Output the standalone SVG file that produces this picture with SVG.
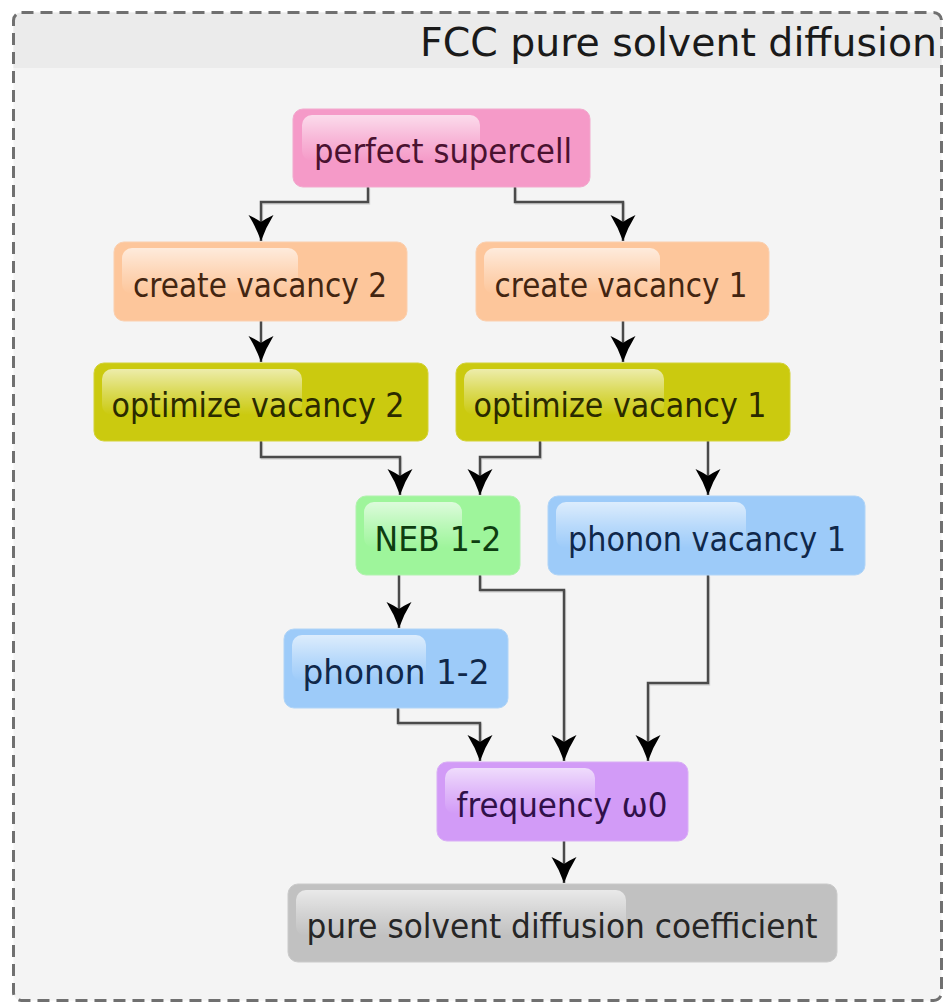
<svg xmlns="http://www.w3.org/2000/svg" width="944" height="1004" viewBox="0 0 944 1004">
  <defs>
    <linearGradient id="gloss" x1="0" y1="0" x2="0" y2="1">
      <stop offset="0" stop-color="#ffffff" stop-opacity="0.65"/>
      <stop offset="0.5" stop-color="#ffffff" stop-opacity="0.3"/>
      <stop offset="1" stop-color="#ffffff" stop-opacity="0"/>
    </linearGradient>
    <marker id="arr" viewBox="-30 -15 32 30" refX="0" refY="0" markerWidth="32" markerHeight="30" markerUnits="userSpaceOnUse" orient="auto">
      <path d="M0,0 Q-14,-5 -26,-12.5 Q-22,-4 -19,0 Q-22,4 -26,12.5 Q-14,5 0,0 Z" fill="#000000"/>
    </marker>
    <style>
      .lbl { font-family: "DejaVu Sans", "Liberation Sans", sans-serif; font-size: 33px; text-anchor: middle; }
      .gl { fill: url(#gloss); }
      .edge { fill: none; stroke: #4a4a4a; stroke-width: 2.5; marker-end: url(#arr); }
      .shadow { fill: none; stroke: #000000; stroke-opacity: 0.12; stroke-width: 2.5; }
    </style>
  </defs>

  <rect x="0" y="0" width="944" height="1004" fill="#ffffff"/>

  <g id="frame">
    <rect x="13.5" y="12.5" width="928" height="988" rx="8" fill="#f4f4f4"/>
    <path d="M13.5,68 V20.5 Q13.5,12.5 21.5,12.5 H933.5 Q941.5,12.5 941.5,20.5 V68 Z" fill="#ebebeb"/>
    <rect x="13.5" y="12.5" width="928" height="988" rx="8" fill="none" stroke="#707070" stroke-width="3" stroke-dasharray="12 7"/>
    <text x="937" y="56" font-family="DejaVu Sans, Liberation Sans, sans-serif" font-size="39" fill="#1a1a1a" text-anchor="end" textLength="517" lengthAdjust="spacingAndGlyphs">FCC pure solvent diffusion</text>
  </g>

  <g id="connectors">
    <g transform="translate(1,1.5)">
      <path class="shadow" d="M368,187 V202 H261 V222"/>
      <path class="shadow" d="M515,187 V202 H623 V222"/>
      <path class="shadow" d="M261,441 V457 H400 V476"/>
      <path class="shadow" d="M540,441 V457 H480 V476"/>
      <path class="shadow" d="M480,575 V590 H564 V742"/>
      <path class="shadow" d="M708,575 V683 H648 V742"/>
      <path class="shadow" d="M398,708 V723 H480 V742"/>
    </g>
    <path class="edge" d="M368,187 V202 H261 V241"/>
    <path class="edge" d="M515,187 V202 H623 V241"/>
    <path class="edge" d="M261,321 V362"/>
    <path class="edge" d="M623,321 V362"/>
    <path class="edge" d="M261,441 V457 H400 V495"/>
    <path class="edge" d="M540,441 V457 H480 V495"/>
    <path class="edge" d="M708,441 V495"/>
    <path class="edge" d="M399,575 V628"/>
    <path class="edge" d="M480,575 V590 H564 V761"/>
    <path class="edge" d="M708,575 V683 H648 V761"/>
    <path class="edge" d="M398,708 V723 H480 V761"/>
    <path class="edge" d="M564,841 V883"/>
  </g>

  <g id="perfect-supercell">
    <rect x="293" y="109" width="297" height="78" rx="10" fill="#f59ac8" stroke="#f2a9cd" stroke-width="1"/>
    <rect class="gl" x="302" y="115" width="178" height="46" rx="10"/>
    <text class="lbl" x="443" y="163" fill="#4a1230" textLength="258" lengthAdjust="spacingAndGlyphs">perfect supercell</text>
  </g>

  <g id="create-vacancy-2">
    <rect x="114" y="242" width="293" height="79" rx="10" fill="#fdc69b" stroke="#fbcfae" stroke-width="1"/>
    <rect class="gl" x="122" y="248" width="176" height="46" rx="10"/>
    <text class="lbl" x="260" y="297" fill="#432511" textLength="254" lengthAdjust="spacingAndGlyphs">create vacancy 2</text>
  </g>

  <g id="create-vacancy-1">
    <rect x="476" y="242" width="293" height="79" rx="10" fill="#fdc69b" stroke="#fbcfae" stroke-width="1"/>
    <rect class="gl" x="484" y="248" width="176" height="46" rx="10"/>
    <text class="lbl" x="621" y="297" fill="#432511" textLength="253" lengthAdjust="spacingAndGlyphs">create vacancy 1</text>
  </g>

  <g id="optimize-vacancy-2">
    <rect x="94" y="363" width="334" height="78" rx="10" fill="#cbca0f" stroke="#d3d236" stroke-width="1"/>
    <rect class="gl" x="102" y="369" width="200" height="46" rx="10"/>
    <text class="lbl" x="258" y="417" fill="#2a2a00" textLength="293" lengthAdjust="spacingAndGlyphs">optimize vacancy 2</text>
  </g>

  <g id="optimize-vacancy-1">
    <rect x="456" y="363" width="334" height="78" rx="10" fill="#cbca0f" stroke="#d3d236" stroke-width="1"/>
    <rect class="gl" x="464" y="369" width="200" height="46" rx="10"/>
    <text class="lbl" x="620" y="417" fill="#2a2a00" textLength="293" lengthAdjust="spacingAndGlyphs">optimize vacancy 1</text>
  </g>

  <g id="neb-1-2">
    <rect x="356" y="496" width="164" height="79" rx="10" fill="#9ef59b" stroke="#b1f2ae" stroke-width="1"/>
    <rect class="gl" x="364" y="502" width="98" height="46" rx="10"/>
    <text class="lbl" x="438" y="551" fill="#0e3d10" textLength="127" lengthAdjust="spacingAndGlyphs">NEB 1-2</text>
  </g>

  <g id="phonon-vacancy-1">
    <rect x="548" y="496" width="317" height="79" rx="10" fill="#9dcbf9" stroke="#b0d4f7" stroke-width="1"/>
    <rect class="gl" x="556" y="502" width="190" height="46" rx="10"/>
    <text class="lbl" x="707" y="551" fill="#10284a" textLength="278" lengthAdjust="spacingAndGlyphs">phonon vacancy 1</text>
  </g>

  <g id="phonon-1-2">
    <rect x="284" y="629" width="224" height="79" rx="10" fill="#9dcbf9" stroke="#b0d4f7" stroke-width="1"/>
    <rect class="gl" x="292" y="635" width="134" height="46" rx="10"/>
    <text class="lbl" x="396" y="684" fill="#10284a" textLength="187" lengthAdjust="spacingAndGlyphs">phonon 1-2</text>
  </g>

  <g id="frequency-w0">
    <rect x="437" y="762" width="251" height="79" rx="10" fill="#d29bf7" stroke="#d9aef6" stroke-width="1"/>
    <rect class="gl" x="445" y="768" width="150" height="46" rx="10"/>
    <text class="lbl" x="562" y="817" fill="#30104a" textLength="211" lengthAdjust="spacingAndGlyphs">frequency ω0</text>
  </g>

  <g id="pure-solvent-diffusion-coefficient">
    <rect x="288" y="884" width="549" height="78" rx="10" fill="#c1c1c1" stroke="#cacaca" stroke-width="1"/>
    <rect class="gl" x="296" y="890" width="330" height="46" rx="10"/>
    <text class="lbl" x="562" y="938" fill="#262626" textLength="511" lengthAdjust="spacingAndGlyphs">pure solvent diffusion coefficient</text>
  </g>
</svg>
